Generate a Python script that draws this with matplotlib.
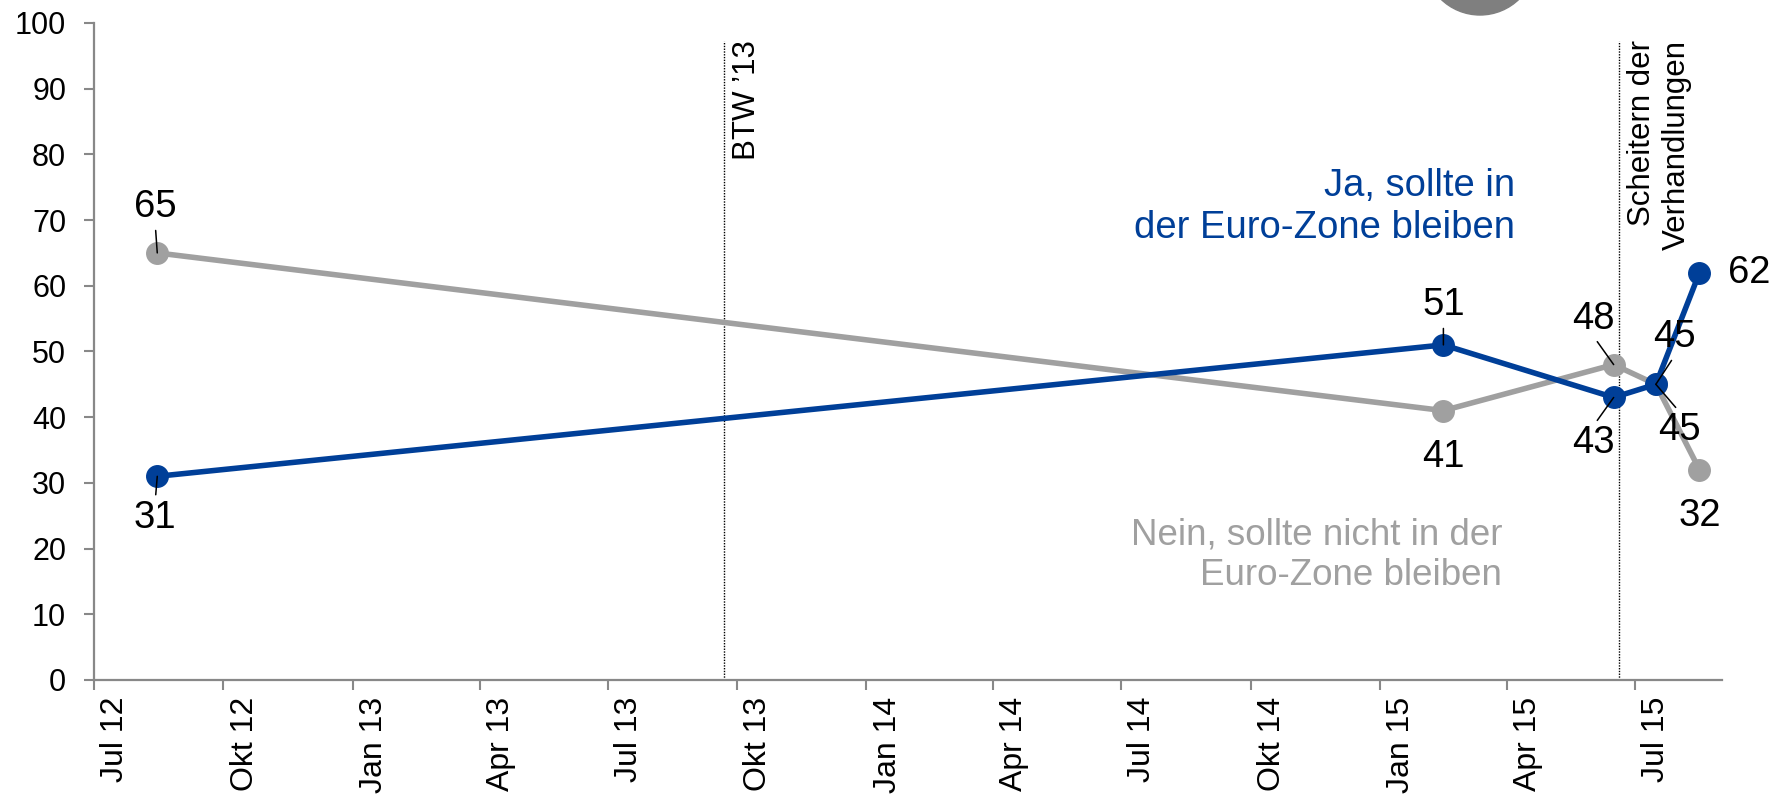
import datetime as dt
import matplotlib
matplotlib.use("Agg")
import matplotlib.pyplot as plt
from matplotlib.patches import Ellipse

plt.rcParams['font.family'] = ['Liberation Sans', 'DejaVu Sans']

# poll dates (mid-month) and values
dates = [dt.date(2012, 8, 15), dt.date(2015, 2, 15), dt.date(2015, 6, 16),
         dt.date(2015, 7, 16), dt.date(2015, 8, 16)]
ja = [31, 51, 43, 45, 62]
nein = [65, 41, 48, 45, 32]

# events
event_dates = [dt.date(2013, 9, 22), dt.date(2015, 6, 20)]
event_labels = ["BTW \u201913", "Scheitern der\nVerhandlungen"]

tick_months = ["Jul 12", "Okt 12", "Jan 13", "Apr 13", "Jul 13", "Okt 13", "Jan 14",
               "Apr 14", "Jul 14", "Okt 14", "Jan 15", "Apr 15", "Jul 15"]

blue = "#003F98"
grey = "#A0A0A0"

fig = plt.figure(figsize=(17.76, 7.95), dpi=100)
ax = fig.add_axes([0.0529, 0.1447, 0.9167, 0.8264])

ax.plot(dates, nein, color=grey, lw=4, marker="o", ms=15.5, zorder=2)
ax.plot(dates, ja, color=blue, lw=4, marker="o", ms=15.5, zorder=2)

ax.set_xlim(dt.date(2012, 7, 1), dt.date(2015, 9, 1))
ax.set_ylim(0, 100)

# quarter ticks at month start, labels centred on mid-month
major = [dt.date(2012 + (6 + 3 * i) // 12, (6 + 3 * i) % 12 + 1, 1) for i in range(len(tick_months))]
minor = [d.replace(day=16) for d in major]
ax.set_xticks(major)
ax.set_xticklabels([""] * len(major))
ax.set_xticks(minor, minor=True)
ax.set_xticklabels(tick_months, minor=True, rotation=90, fontsize=23, va="top")
ax.tick_params(axis="x", which="minor", length=0, pad=12)
ax.tick_params(axis="x", which="major", length=7, width=1.5, color="#888888", direction="out")

ax.set_yticks(range(0, 101, 10))
ax.tick_params(axis="y", length=7, width=1.5, color="#888888", direction="out", labelsize=22, pad=13)

for s in ["top", "right"]:
    ax.spines[s].set_visible(False)
for s in ["left", "bottom"]:
    ax.spines[s].set_color("#888888")
    ax.spines[s].set_linewidth(1.6)

# event lines
for d in event_dates:
    ax.plot([d, d], [0, 97.3], color="black", lw=1, ls=(0, (1, 1)), zorder=1)
ax.text(0.401, 0.974, event_labels[0], transform=ax.transAxes, rotation=90,
        ha="center", va="top", fontsize=22.5)
ax.text(0.9615, 0.974, event_labels[1], transform=ax.transAxes, rotation=90,
        ha="center", va="top", fontsize=22.5, multialignment="right")

# data labels: offset in pixels, leader line anchor on the label (None = no leader)
ja_off = [(-2, -42), (0, 40), (-20, -46), (19, 47), (50, 0)]
ja_lead = [(0.5, 1), (0.5, 0), (0.5, 1), (0.5, 0), None]
nein_off = [(-2, 46), (0, -46), (-20, 46), (24, -46), (0, -46)]
nein_lead = [(0.5, 0), None, (0.5, 0), (0.5, 1), None]

for vals, offs, leads in [(ja, ja_off, ja_lead), (nein, nein_off, nein_lead)]:
    for d, v, o, l in zip(dates, vals, offs, leads):
        ap = None
        if l is not None:
            ap = dict(arrowstyle="-", color="black", lw=1.1, shrinkA=2, shrinkB=0, relpos=l)
        ax.annotate(str(v), xy=(d, v), xytext=o, textcoords="offset pixels",
                    ha="center", va="center", fontsize=27.5, arrowprops=ap, zorder=4)

# series labels
ax.text(0.8729, 0.72, "Ja, sollte in\nder Euro-Zone bleiben", transform=ax.transAxes,
        ha="right", va="center", fontsize=27.5, color=blue, multialignment="right")
ax.text(0.8649, 0.19, "Nein, sollte nicht in der\nEuro-Zone bleiben", transform=ax.transAxes,
        ha="right", va="center", fontsize=26.5, color=grey, multialignment="right")

# cut-off badge at the top
fig.patches.append(Ellipse((1480 / 1776, 1 + 41 / 795), 112 / 1776, 112 / 795,
                           transform=fig.transFigure, color="#7F7F7F", zorder=0))

fig.savefig("out.png", dpi=100)
